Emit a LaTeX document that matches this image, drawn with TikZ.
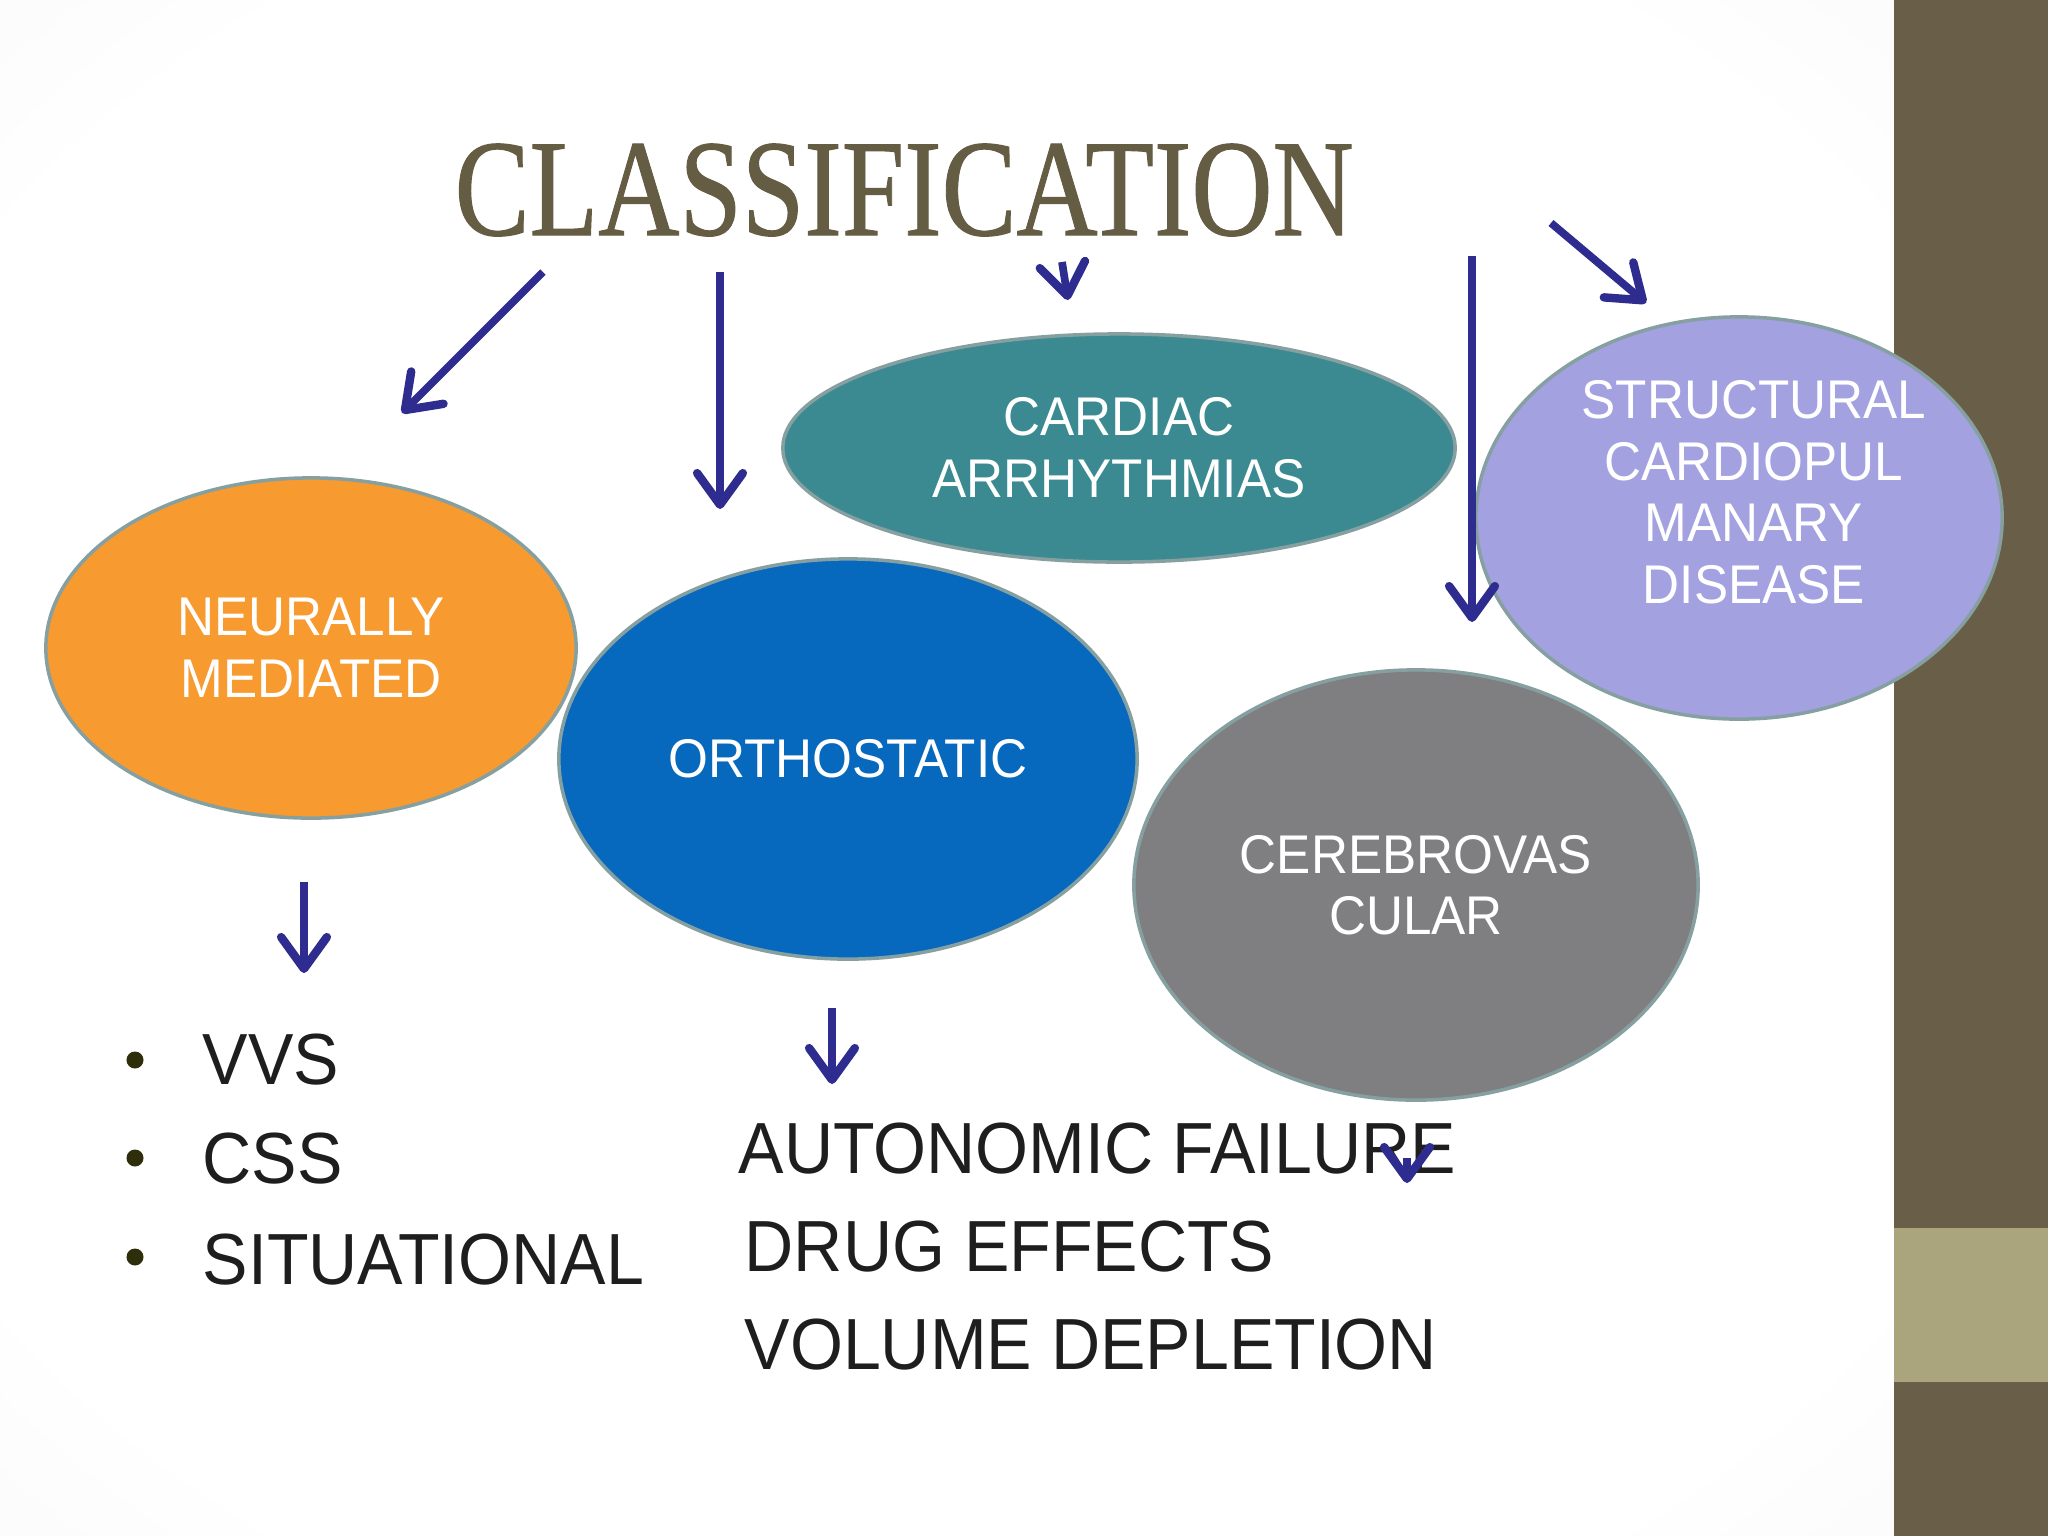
\documentclass[tikz,border=0pt]{standalone}
\usepackage{fontspec}
\setmainfont{Liberation Sans}
\newfontfamily\lblfont[FakeStretch=0.94]{Liberation Sans}
\newfontfamily\titlefont[FakeBold=0.8]{Liberation Serif}
\usetikzlibrary{arrows.meta,shapes.geometric}
\definecolor{orangeE}{HTML}{F79A30}
\definecolor{blueE}{HTML}{0669BE}
\definecolor{tealE}{HTML}{3B8A91}
\definecolor{lavE}{HTML}{A3A1E0}
\definecolor{greyE}{HTML}{7F7F82}
\definecolor{edgecol}{HTML}{86A0A2}
\definecolor{arrcol}{HTML}{2E2D8F}
\definecolor{bardark}{HTML}{695E48}
\definecolor{barlight}{HTML}{AAA57D}
\definecolor{titlecol}{HTML}{655C44}
\definecolor{textcol}{HTML}{1E1E1E}
\definecolor{bulletcol}{HTML}{2E2E0A}
\pgfdeclareradialshading{bgshade}{\pgfpoint{0bp}{0bp}}{color(0bp)=(white); color(30bp)=(white); color(72bp)=(black!11)}
\tikzset{
  blob/.style={ellipse, draw=edgecol, line width=1pt, inner sep=0pt, text=white, align=center,
    font=\lblfont\fontsize{15.5}{17.5}\selectfont},
  blobtext/.style={inner sep=0pt, text=white, align=center, font=\lblfont\fontsize{15.5}{17.5}\selectfont},
  listtext/.style={anchor=base west, inner sep=0pt, text=textcol, font=\lblfont\fontsize{20.6}{24}\selectfont},
  bulletdot/.style={circle, fill=bulletcol, minimum size=0.17cm, inner sep=0pt},
  arr/.style={draw=arrcol, line width=2.2pt, -{Straight Barb[length=9pt,width=13pt,line width=2.4pt,round]}}
}
\begin{document}
\begin{tikzpicture}[x=0.01cm,y=-0.01cm]
\useasboundingbox (0,0) rectangle (2048,1536);
\fill[white] (0,0) rectangle (2048,1536);
\shade[shading=bgshade] (0,0) rectangle (1894,1536);
\fill[bardark] (1894,0) rectangle (2048,1536);
\fill[barlight] (1894,1228) rectangle (2048,1382);

\node[anchor=base west, inner sep=0pt, text=titlecol, font=\titlefont\fontsize{39.2}{40}\selectfont] (title) at (454,235) {\scalebox{0.815}[1]{CLASSIFICATION}};

\node[blob, fill=tealE, minimum width=6.72cm, minimum height=2.28cm] (card) at (1119,448) {CARDIAC\\ARRHYTHMIAS};
\node[blob, fill=orangeE, minimum width=5.30cm, minimum height=3.40cm] (neur) at (311,648) {NEURALLY\\MEDIATED};
\node[blob, fill=blueE, minimum width=5.78cm, minimum height=4.00cm] (ortho) at (848,759) {ORTHOSTATIC};
\node[blob, fill=greyE, minimum width=5.64cm, minimum height=4.30cm] (cere) at (1416,885) {CEREBROVAS\\CULAR};
\node[blob, fill=lavE, minimum width=5.26cm, minimum height=4.02cm] (struct) at (1739,518) {};
\node[blobtext] (structtxt) at (1754,492) {STRUCTURAL\\CARDIOPUL\\MANARY\\DISEASE};

\node[bulletdot] (b1) at (135,1060) {};
\node[bulletdot] (b2) at (135,1158) {};
\node[bulletdot] (b3) at (135,1257) {};
\node[listtext] (vvs) at (202,1084) {VVS};
\node[listtext] (css) at (202,1183) {CSS};
\node[listtext] (sit) at (202,1284) {SITUATIONAL};

\node[listtext] (auto) at (738,1173) {AUTONOMIC FAILURE};
\node[listtext] (drug) at (744,1271) {DRUG EFFECTS};
\node[listtext] (vol) at (744,1369) {VOLUME DEPLETION};

\coordinate (a1s) at (543,272); \coordinate (a1e) at (402,413);
\coordinate (a2s) at (720,272); \coordinate (a2e) at (720,509);
\coordinate (a3s) at (1062,262); \coordinate (a3e) at (1068,300);
\coordinate (a4s) at (1472,256); \coordinate (a4e) at (1472,622);
\coordinate (a5s) at (1551,223); \coordinate (a5e) at (1646,303);
\coordinate (a6s) at (304,882); \coordinate (a6e) at (304,973);
\coordinate (a7s) at (832,1008); \coordinate (a7e) at (832,1084);
\coordinate (a8s) at (1407,1158); \coordinate (a8e) at (1407,1183);

\draw[arr] (a1s) -- (a1e);
\draw[arr] (a2s) -- (a2e);
\draw[arr] (a3s) -- (a3e);
\draw[arr] (a4s) -- (a4e);
\draw[arr] (a5s) -- (a5e);
\draw[arr] (a6s) -- (a6e);
\draw[arr] (a7s) -- (a7e);
\draw[arr] (a8s) -- (a8e);
\end{tikzpicture}
\end{document}
